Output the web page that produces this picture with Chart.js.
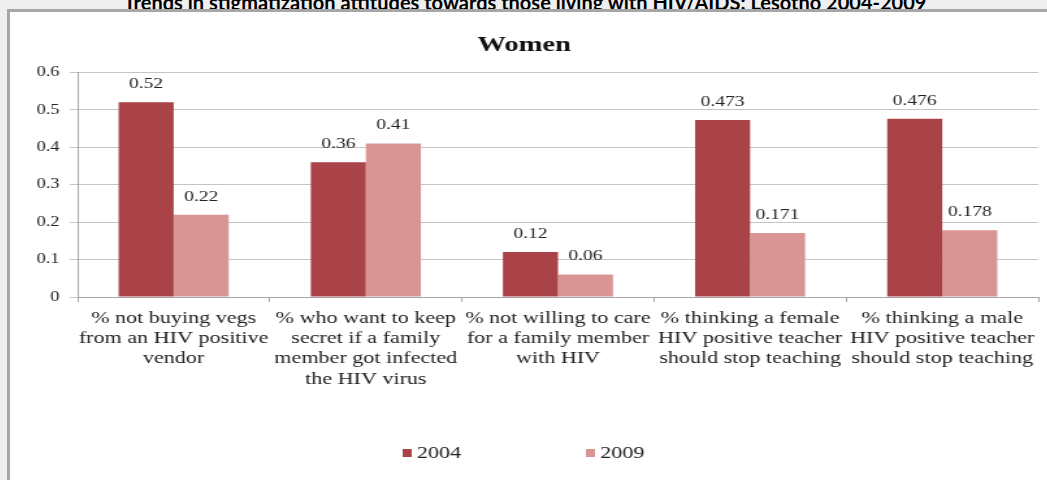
<!DOCTYPE html>
<html>
<head>
<meta charset="utf-8">
<script src="https://cdn.jsdelivr.net/npm/chart.js@4"></script>
<style>
  html, body { margin: 0; padding: 0; }
  body { width: 1047px; height: 480px; overflow: hidden; background: #efefef; position: relative; }
  #page-title {
    position: absolute; left: 0; top: -8px; width: 1050px; text-align: center;
    font: bold 20px Lato, sans-serif; line-height: 20px; color: #000; white-space: nowrap;
  }
  #frame {
    position: absolute; left: 7px; top: 9px; right: -10px; bottom: -10px;
    border-left: 3px solid #a6a6a6; border-top: 3px solid #a6a6a6; background: #fff;
  }
  #chart {
    position: absolute; left: 10px; top: 12px;
    transform: scaleX(1.3); transform-origin: 0 0;
  }
</style>
</head>
<body>
<div id="page-title">Trends in stigmatization attitudes towards those living with HIV/AIDS: Lesotho 2004-2009</div>
<div id="frame"></div>
<canvas id="chart" width="798" height="468"></canvas>
<script>
// Data
const categories = [
    ["% not buying vegs", "from an HIV positive", "vendor"],
    ["% who want to keep", "secret if a family", "member got infected", "the HIV virus"],
    ["% not willing to care", "for a family member", "with HIV"],
    ["% thinking a female", "HIV positive teacher", "should stop teaching"],
    ["% thinking a male", "HIV positive teacher", "should stop teaching"]
];
const seriesNames = ["2004", "2009"];
const values2004 = [0.52, 0.36, 0.12, 0.473, 0.476];
const values2009 = [0.22, 0.41, 0.06, 0.171, 0.178];
const yTickLabels = ["0", "0.1", "0.2", "0.3", "0.4", "0.5", "0.6"];

const serif = "'Liberation Serif', 'Times New Roman', serif";
const textColor = "#222222";

// Draw the value above each bar
const valueLabels = {
    id: 'valueLabels',
    afterDatasetsDraw(chart) {
        const ctx = chart.ctx;
        ctx.save();
        ctx.font = "15px " + serif;
        ctx.fillStyle = textColor;
        ctx.textAlign = "center";
        ctx.textBaseline = "middle";
        chart.data.datasets.forEach((ds, i) => {
            chart.getDatasetMeta(i).data.forEach((bar, j) => {
                ctx.fillText(String(ds.data[j]), bar.x, bar.y - 18);
            });
        });
        ctx.restore();
    }
};

// Legend spread out like the original
const spreadLegend = {
    id: 'spreadLegend',
    afterDraw(chart) {
        const ctx = chart.ctx;
        const cy = 441;
        const gap = 141;
        let x = chart.width / 2 - 97;
        ctx.save();
        ctx.font = "17px " + serif;
        ctx.textBaseline = "middle";
        chart.data.datasets.forEach(ds => {
            ctx.fillStyle = ds.backgroundColor;
            ctx.fillRect(x, cy - 4, 7, 8);
            ctx.fillStyle = textColor;
            ctx.fillText(ds.label, x + 11, cy + 1);
            x += gap;
        });
        ctx.restore();
    }
};

const ctx = document.getElementById('chart').getContext('2d');
new Chart(ctx, {
    type: 'bar',
    data: {
        labels: categories,
        datasets: [
            { label: seriesNames[0], data: values2004, backgroundColor: '#aa4347' },
            { label: seriesNames[1], data: values2009, backgroundColor: '#d99594' }
        ]
    },
    options: {
        responsive: false,
        animation: false,
        layout: { padding: { top: 20, right: 7, bottom: 0, left: 0 } },
        datasets: { bar: { categoryPercentage: 0.573, barPercentage: 1.0 } },
        plugins: {
            legend: { display: false },
            tooltip: { enabled: false },
            title: {
                display: true,
                text: 'Women',
                color: '#111',
                font: { family: serif, size: 22, weight: 'bold' },
                padding: { top: 0, bottom: 14 }
            }
        },
        scales: {
            x: {
                grid: { drawOnChartArea: false, color: '#a6a6a6', tickLength: 5, offset: true },
                border: { color: '#a6a6a6' },
                ticks: {
                    color: textColor,
                    font: { family: serif, size: 17, lineHeight: 1.2 },
                    padding: 6,
                    maxRotation: 0,
                    autoSkip: false
                },
                afterFit(scale) { scale.height = 183; }
            },
            y: {
                min: 0,
                max: 0.6,
                grid: { color: '#c4c4c4', tickLength: 6 },
                border: { color: '#a6a6a6' },
                ticks: {
                    stepSize: 0.1,
                    color: textColor,
                    font: { family: serif, size: 14 },
                    padding: 8,
                    callback: (value, index) => yTickLabels[index]
                },
                afterFit(scale) { scale.width = 52; }
            }
        }
    },
    plugins: [valueLabels, spreadLegend]
});
</script>
</body>
</html>
